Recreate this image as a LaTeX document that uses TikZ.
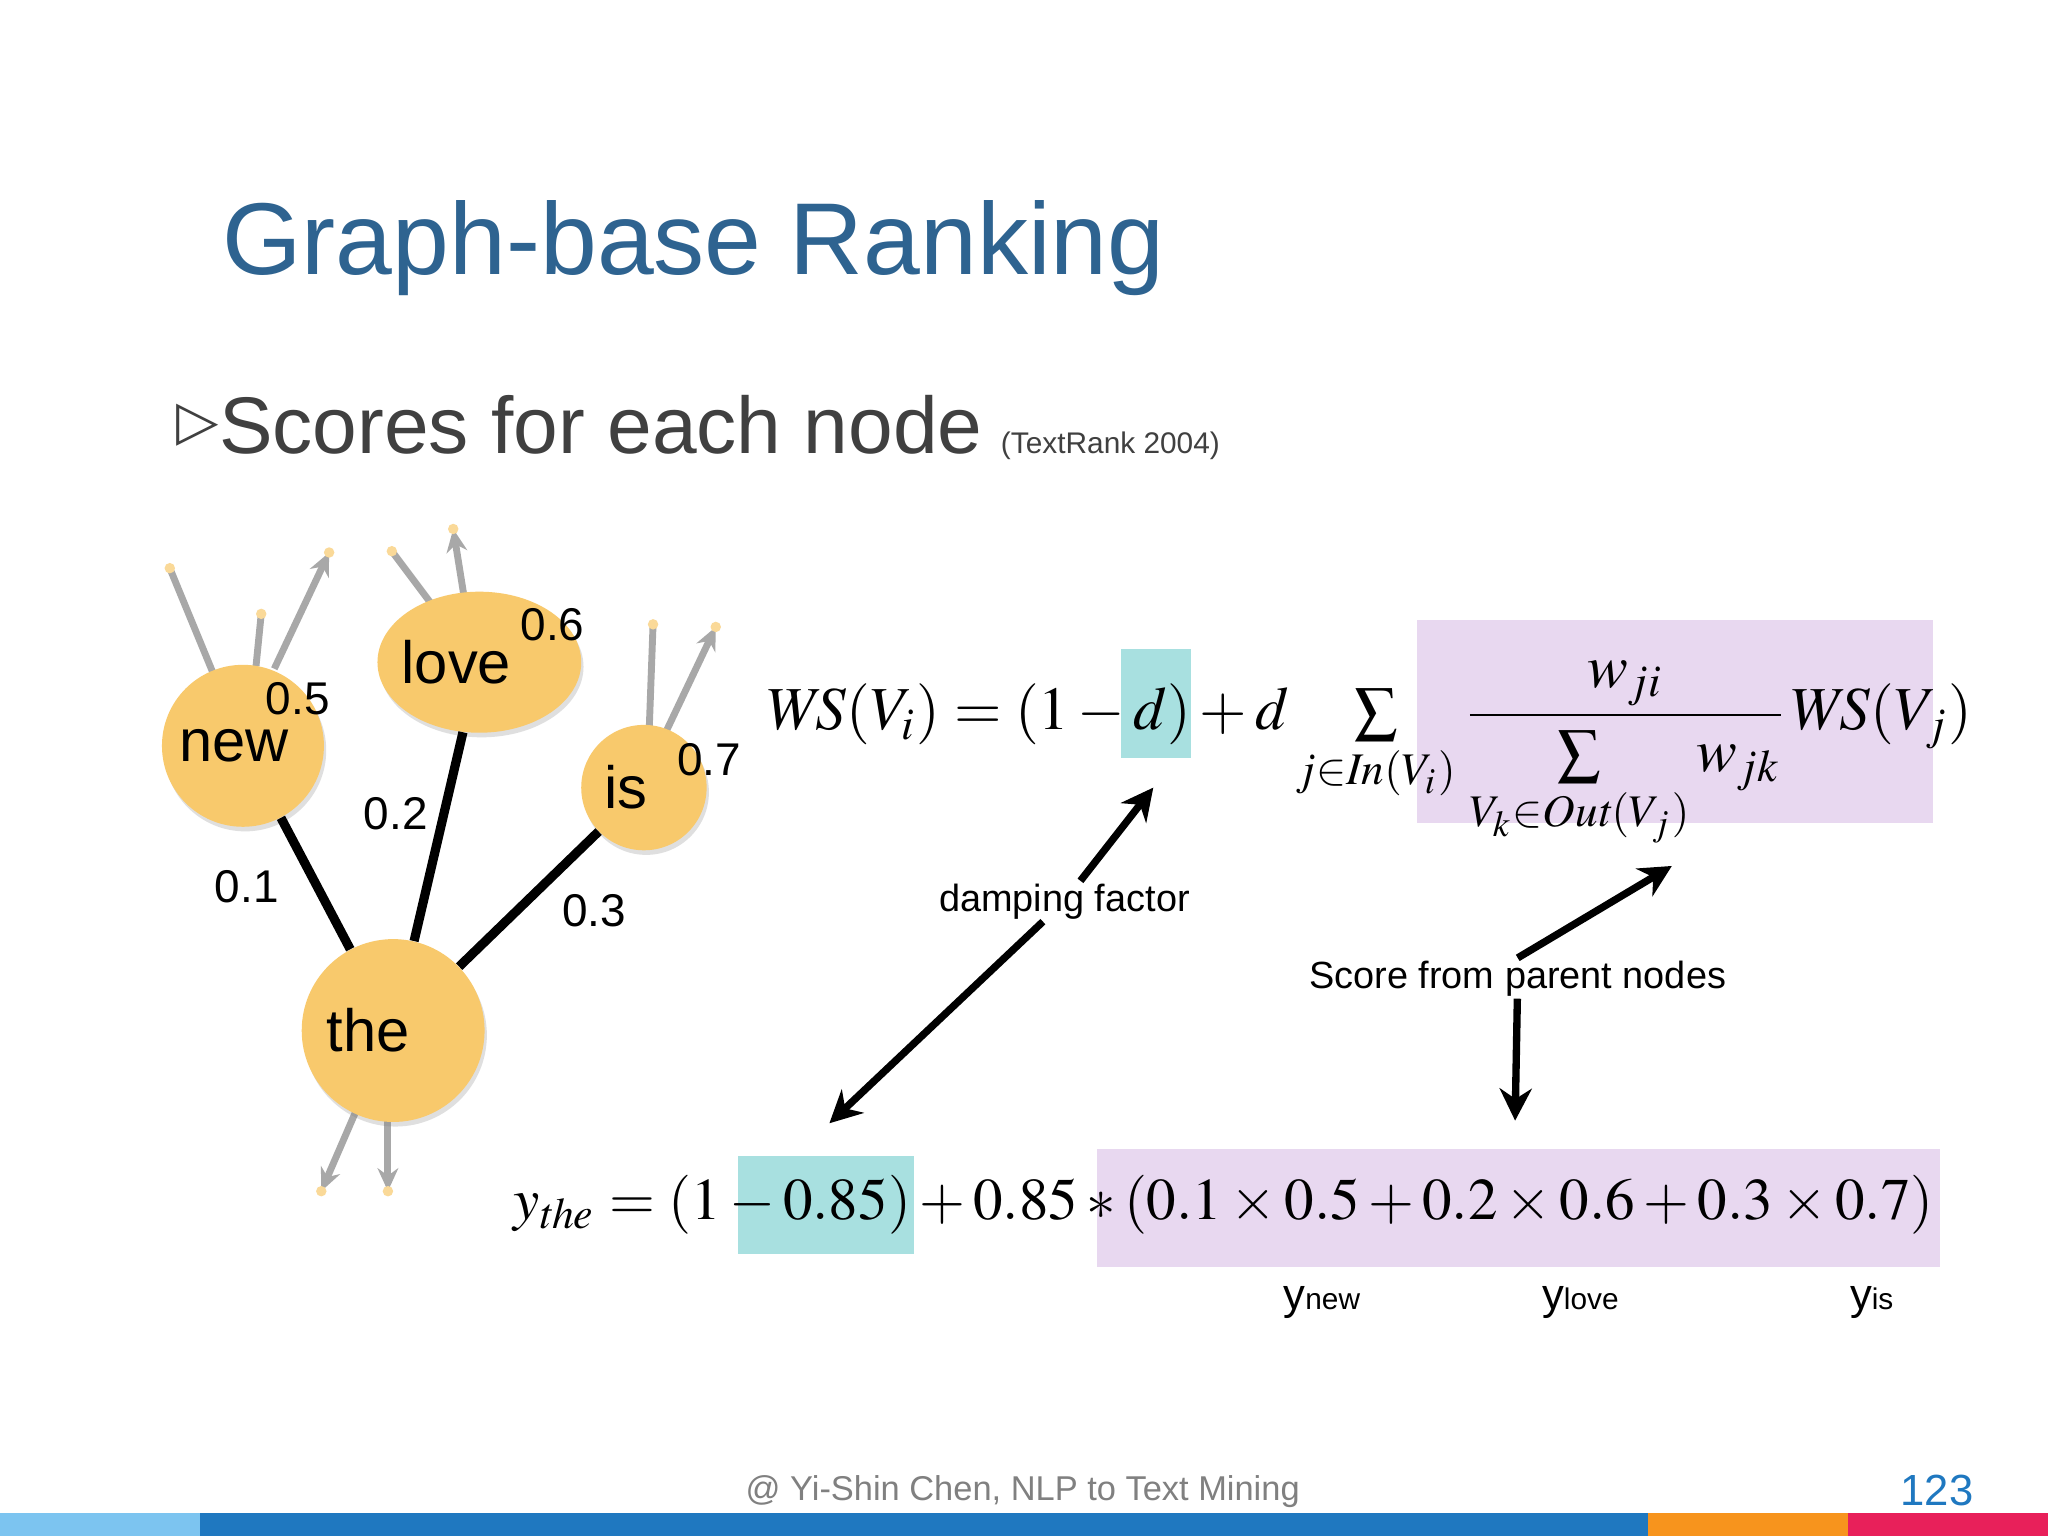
\documentclass[tikz,border=0pt]{standalone}
\usepackage{amsmath}
\usepackage{mathptmx}
\usepackage[no-math]{fontspec}
\setmainfont{Liberation Sans}
\newfontfamily\djv{DejaVu Sans}
\usetikzlibrary{shadows,arrows.meta,shapes.geometric}
\definecolor{titleblue}{HTML}{2E6390}
\definecolor{txtgrey}{HTML}{404040}
\definecolor{nodeyel}{HTML}{F8C96C}
\definecolor{hlcyan}{HTML}{A8E0E0}
\definecolor{hlpurp}{HTML}{E8D8F0}
\definecolor{edgegrey}{HTML}{A8A8A8}
\definecolor{barblue}{HTML}{1F78C0}
\definecolor{barlight}{HTML}{7CC4F0}
\definecolor{barorange}{HTML}{F7941D}
\definecolor{barred}{HTML}{E8205A}
\tikzset{
 px/.style={x=0.02cm,y=-0.02cm},
 word/.style={circle,fill=nodeyel,inner sep=0pt,drop shadow={opacity=0.25,shadow xshift=1pt,shadow yshift=-2pt},font=\fontsize{26}{30}\selectfont},
 wlab/.style={font=\fontsize{20}{24}\selectfont,inner sep=0pt},
 gout/.style={edgegrey,line width=3pt,-{Stealth[length=10pt,width=9pt]}},
 gin/.style={edgegrey,line width=3pt},
 blk/.style={line width=3.2pt,-{Stealth[length=14pt,width=14pt]}},
 ann/.style={font=\fontsize{16.5}{20}\selectfont,inner sep=1pt},
}
\begin{document}
\begin{tikzpicture}[px]
\useasboundingbox (0,0) rectangle (1568,1176);
\fill[white] (0,0) rectangle (1568,1176);
% title
\node[anchor=base west,text=titleblue,font=\fontsize{44.5}{54}\selectfont,inner sep=0pt] (title) at (170,210) {Graph-base Ranking};
\node[anchor=base west,text=txtgrey,font=\fontsize{35}{40}\selectfont,inner sep=0pt] (sub) at (135,347) {{\djv\fontsize{24}{28}\selectfont\raisebox{6pt}{▷}}Scores for each node\hspace{8pt}{\fontsize{13}{15}\selectfont (TextRank 2004)}};
% grey stubs
\coordinate (n1) at (130,435); \coordinate (n2) at (200,470); \coordinate (n3) at (252,423);
\coordinate (l1) at (300,422); \coordinate (l2) at (347,405);
\coordinate (i1) at (500,478); \coordinate (i2) at (548,480);
\coordinate (t1) at (246,912); \coordinate (t2) at (297,912);
\draw[gin] (163,515) -- (n1); \draw[gin] (196,510) -- (n2); \draw[gout] (210,512) -- (n3);
\draw[gin] (330,462) -- (l1); \draw[gout] (355,455) -- (l2);
\draw[gin] (497,560) -- (i1); \draw[gout] (510,560) -- (i2);
\draw[gout] (275,845) -- (t1); \draw[gout] (297,850) -- (t2);
\foreach \c in {n1,n2,l1,i1,i2,t1,t2,n3,l2}{\fill[nodeyel!70] (\c) circle (4);}
% nodes
\node[word,minimum size=124*0.02cm] (new) at (186,571) {\hspace*{-8pt}new};
\node[word,ellipse,minimum width=156*0.02cm,minimum height=108*0.02cm] (love) at (367,507) {\hspace*{-20pt}love};
\node[word,minimum size=96*0.02cm] (is) at (493,603) {\hspace*{-16pt}is};
\node[word,minimum size=140*0.02cm] (the) at (301,789) {\hspace*{-22pt}the};
\draw[line width=4pt] (the) -- (new);
\draw[line width=4pt] (the) -- (love);
\draw[line width=4pt] (the) -- (is);
\node[wlab] at (228,535) {0.5};
\node[wlab] at (423,478) {0.6};
\node[wlab] at (543,582) {0.7};
\node[wlab] at (303,623) {0.2};
\node[wlab] at (189,679) {0.1};
\node[wlab] at (455,697) {0.3};
% highlights
\fill[hlpurp] (1085,475) rectangle (1480,630);
\fill[hlcyan] (858,497) rectangle (912,580);
\fill[hlcyan] (565,885) rectangle (700,960);
\fill[hlpurp] (840,880) rectangle (1485,970);
% formula
\node[anchor=west,inner sep=0pt] (f1) at (585,578)
 {\resizebox{18.5cm}{!}{$\mathit{WS}(V_i)=(1-d)+d\sum\limits_{j\in \mathit{In}(V_i)}\dfrac{w_{ji}}{\sum\limits_{V_k\in \mathit{Out}(V_j)}w_{jk}}\mathit{WS}(V_j)$}};
\node[anchor=west,inner sep=0pt] (f2) at (393,922)
 {\resizebox{21.74cm}{!}{$y_{\mathit{the}}=(1-0.85)+0.85*(0.1\times0.5+0.2\times0.6+0.3\times0.7)$}};
% annotations
\node[ann] (damp) at (815,690) {damping factor};
\coordinate (dA) at (883,603); \coordinate (dB) at (635,860);
\draw[blk] (damp) -- (dB);
\draw[blk] (damp) -- (dA);
\node[ann] (score) at (1162,749) {Score from parent nodes};
\coordinate (sA) at (1280,663); \coordinate (sB) at (1160,858);
\draw[blk] (score.north) -- (sA);
\draw[blk] (score) -- (sB);
\node[font=\fontsize{19}{22}\selectfont,inner sep=0pt] (yn) at (1012,997) {y{\fontsize{13}{15}\selectfont new}};
\node[font=\fontsize{19}{22}\selectfont,inner sep=0pt] (yl) at (1210,997) {y{\fontsize{13}{15}\selectfont love}};
\node[font=\fontsize{19}{22}\selectfont,inner sep=0pt] (yi) at (1433,997) {y{\fontsize{13}{15}\selectfont is}};
% footer
\node[text=gray,font=\fontsize{15}{18}\selectfont] (foot) at (783,1142) {@ Yi-Shin Chen, NLP to Text Mining};
\node[text=barblue,font=\fontsize{19}{22}\selectfont] (pg) at (1483,1141) {123};
\fill[barlight] (0,1158) rectangle (153,1176);
\fill[barblue] (153,1158) rectangle (1262,1176);
\fill[barorange] (1262,1158) rectangle (1415,1176);
\fill[barred] (1415,1158) rectangle (1568,1176);
\end{tikzpicture}
\end{document}
